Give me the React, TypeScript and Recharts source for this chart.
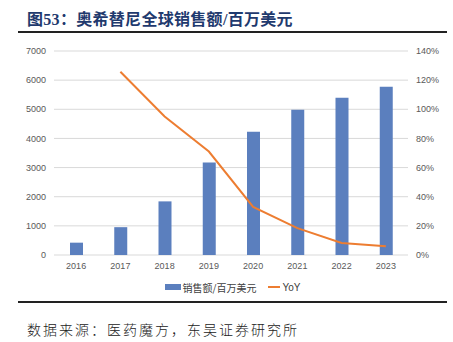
import { ComposedChart, Bar, Line, XAxis, YAxis, CartesianGrid, Legend } from "recharts";

const years = ["2016", "2017", "2018", "2019", "2020", "2021", "2022", "2023"];
const sales = [423, 955, 1840, 3170, 4230, 4980, 5400, 5770];
const yoy = [null, 1.258, 0.95, 0.71, 0.33, 0.184, 0.083, 0.06];
const leftTicks = [0, 1000, 2000, 3000, 4000, 5000, 6000, 7000];
const rightTicks = [0, 0.2, 0.4, 0.6, 0.8, 1.0, 1.2, 1.4];

const BLUE = "#5b7fbe";
const ORANGE = "#ed7d31";
const TICK = { fontSize: 9, fill: "#595959", fontFamily: "'Liberation Sans', Arial, sans-serif" };

const data = years.map((y, i) => ({ year: y, sales: sales[i], yoy: yoy[i] }));

function LegendBox() {
  return (
    <div
      style={{
        height: 24,
        display: "flex",
        justifyContent: "center",
        alignItems: "center",
        fontSize: 10,
        color: "#404040",
        fontFamily: "'Noto Sans CJK SC', sans-serif",
        paddingLeft: 12,
      }}
    >
      <span style={{ display: "inline-block", width: 16, height: 6, background: BLUE, marginRight: 2 }} />
      <span>销售额/百万美元</span>
      <span style={{ display: "inline-block", width: 12, height: 2, background: ORANGE, marginLeft: 12, marginRight: 2 }} />
      <span style={{ fontFamily: "'Liberation Sans', Arial, sans-serif" }}>YoY</span>
    </div>
  );
}

export default function App() {
  return (
    <div style={{ position: "absolute", left: 0, top: 0, width: 453, height: 342, background: "#fff" }}>
      <div
        style={{
          position: "absolute",
          left: 27,
          top: 6,
          fontSize: 16,
          fontWeight: 700,
          color: "#1f3a6e",
          fontFamily: "'Liberation Serif', 'Noto Sans CJK SC', serif",
          letterSpacing: 0.3,
          whiteSpace: "nowrap",
        }}
      >
        图53：奥希替尼全球销售额/百万美元
      </div>
      <div style={{ position: "absolute", left: 18, top: 31, width: 429, height: 2, background: "#222" }} />
      <div style={{ position: "absolute", left: 0, top: 0 }}>
        <ComposedChart width={453} height={300} data={data} margin={{ top: 51, right: 5, left: 5, bottom: 1 }}>
          <CartesianGrid yAxisId="left" vertical={false} stroke="#d9d9d9" />
          <XAxis dataKey="year" axisLine={false} tickLine={false} tick={TICK} height={20} />
          <YAxis
            yAxisId="left"
            domain={[0, 7000]}
            ticks={leftTicks}
            axisLine={false}
            tickLine={false}
            tick={TICK}
            width={49}
            interval={0}
          />
          <YAxis
            yAxisId="right"
            orientation="right"
            domain={[0, 1.4]}
            ticks={rightTicks}
            tickFormatter={(v: number) => `${Math.round(v * 100)}%`}
            axisLine={false}
            tickLine={false}
            tick={{ ...TICK, textAnchor: "start" }}
            width={40}
            interval={0}
          />
          <Bar yAxisId="left" dataKey="sales" fill={BLUE} barSize={13} isAnimationActive={false} />
          <Line
            yAxisId="right"
            dataKey="yoy"
            stroke={ORANGE}
            strokeWidth={2}
            dot={false}
            isAnimationActive={false}
          />
          <Legend verticalAlign="bottom" height={24} content={() => <LegendBox />} />
        </ComposedChart>
      </div>
      <div style={{ position: "absolute", left: 18, top: 301, width: 429, height: 2, background: "#222" }} />
      <div
        style={{
          position: "absolute",
          left: 27,
          top: 319,
          fontSize: 14,
          color: "#222",
          fontFamily: "'Noto Sans CJK SC', sans-serif",
          fontWeight: 300,
          letterSpacing: 2,
          whiteSpace: "nowrap",
        }}
      >
        数据来源：医药魔方，东吴证券研究所
      </div>
    </div>
  );
}
